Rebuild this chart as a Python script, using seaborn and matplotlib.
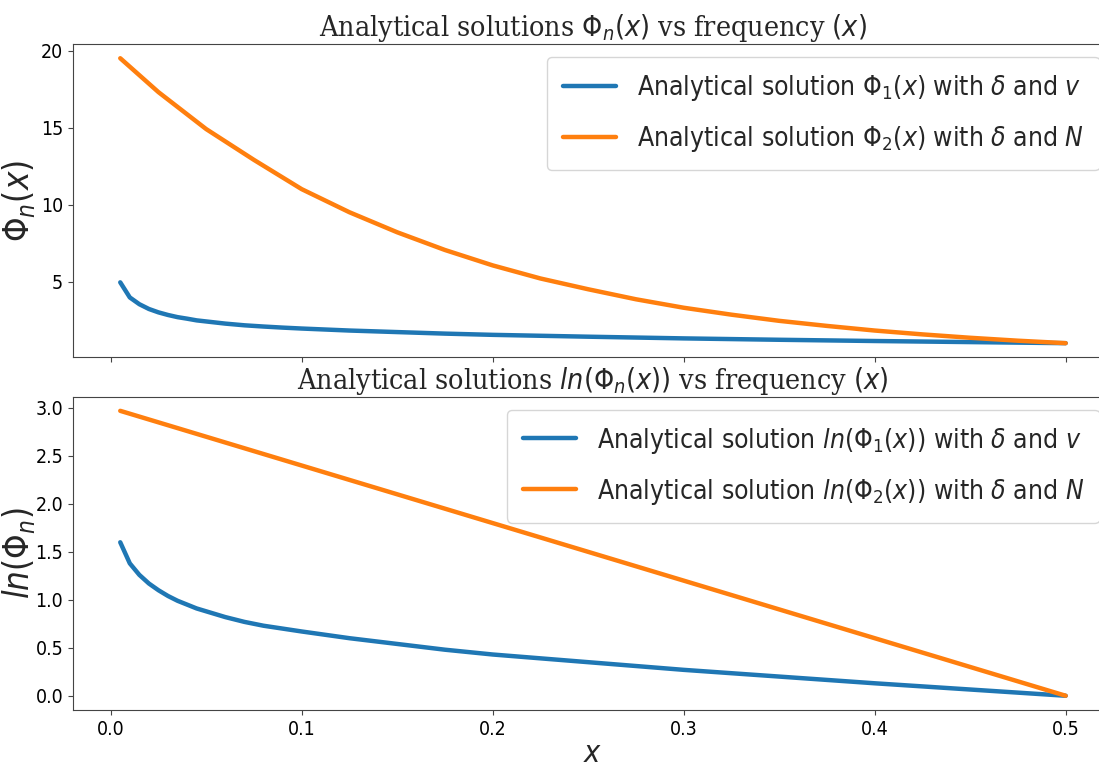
import numpy as np
import matplotlib
matplotlib.use("Agg")
import matplotlib.pyplot as plt
import seaborn as sns

# values
x_blue = [0.005, 0.01, 0.015, 0.02, 0.025, 0.03, 0.035, 0.04, 0.045, 0.05,
          0.06, 0.07, 0.08, 0.09, 0.1, 0.125, 0.15, 0.175, 0.2,
          0.25, 0.3, 0.35, 0.4, 0.45, 0.5]
phi1 = [4.95, 3.97, 3.53, 3.22, 3.0, 2.83, 2.69, 2.59, 2.48, 2.41,
        2.27, 2.16, 2.08, 2.01, 1.95, 1.82, 1.72, 1.62, 1.54,
        1.42, 1.31, 1.22, 1.14, 1.07, 1.0]
ln_phi1 = [1.60, 1.38, 1.26, 1.17, 1.10, 1.04, 0.99, 0.95, 0.91, 0.88,
           0.82, 0.77, 0.73, 0.70, 0.67, 0.60, 0.54, 0.48, 0.43,
           0.35, 0.27, 0.20, 0.13, 0.065, 0.0]

x_orange = [0.005, 0.025, 0.05, 0.075, 0.1, 0.125, 0.15, 0.175, 0.2, 0.225, 0.25,
            0.275, 0.3, 0.325, 0.35, 0.375, 0.4, 0.425, 0.45, 0.475, 0.5]
phi2 = [19.5, 17.3, 14.9, 12.9, 11.0, 9.5, 8.2, 7.05, 6.05, 5.2, 4.5,
        3.85, 3.3, 2.85, 2.45, 2.12, 1.82, 1.57, 1.35, 1.16, 1.0]
ln_phi2 = [2.97, 2.85, 2.7, 2.55, 2.4, 2.25, 2.1, 1.95, 1.8, 1.65, 1.5,
           1.35, 1.2, 1.05, 0.9, 0.75, 0.6, 0.45, 0.3, 0.15, 0.0]

labels_top = [r"Analytical solution $\Phi_1(x)$ with $\delta$ and $v$",
              r"Analytical solution $\Phi_2(x)$ with $\delta$ and $N$"]
labels_bot = [r"Analytical solution $ln(\Phi_1(x))$ with $\delta$ and $v$",
              r"Analytical solution $ln(\Phi_2(x))$ with $\delta$ and $N$"]
titles = [r"Analytical solutions $\Phi_n(x)$ vs frequency $(x)$",
          r"Analytical solutions $ln(\Phi_n(x))$ vs frequency $(x)$"]

sns.set_style("ticks")
plt.rcParams['font.family'] = ['DejaVu Sans']
plt.rcParams['font.stretch'] = 'condensed'

fig, (ax1, ax2) = plt.subplots(2, 1, figsize=(10.99, 7.67), dpi=100, sharex=True)
fig.subplots_adjust(left=0.0664, right=1.0127, top=1 - 44 / 767, bottom=1 - 710 / 767, hspace=0.125)

blue, orange = '#1f77b4', '#ff7f0e'
sns.lineplot(x=x_blue, y=phi1, ax=ax1, color=blue, lw=3.2, label=labels_top[0])
sns.lineplot(x=x_orange, y=phi2, ax=ax1, color=orange, lw=3.2, label=labels_top[1])
sns.lineplot(x=x_blue, y=ln_phi1, ax=ax2, color=blue, lw=3.2, label=labels_bot[0])
sns.lineplot(x=x_orange, y=ln_phi2, ax=ax2, color=orange, lw=3.2, label=labels_bot[1])

for ax, title in zip((ax1, ax2), titles):
    ax.tick_params(labelsize=14, length=3.5, width=0.8, colors='#444444', labelcolor='black')
    ax.legend(loc='upper right', fontsize=19, labelspacing=0.8, borderpad=0.6)
    for s in ax.spines.values():
        s.set_color('#444444')
    ax.spines['right'].set_visible(False)
    ax.set_title(title, fontsize=20.5, family='DejaVu Serif', stretch='condensed', pad=4)

ax1.set_ylabel(r"$\Phi_n(x)$", fontsize=25)
ax2.set_ylabel(r"$ln(\Phi_n)$", fontsize=25)
ax1.yaxis.set_label_coords(-0.035, 0.5)
ax2.yaxis.set_label_coords(-0.035, 0.5)
ax2.set_xlabel(r"$x$", fontsize=22, labelpad=0)
ax1.set_yticks([5, 10, 15, 20])

fig.savefig("out.png", dpi=100)
